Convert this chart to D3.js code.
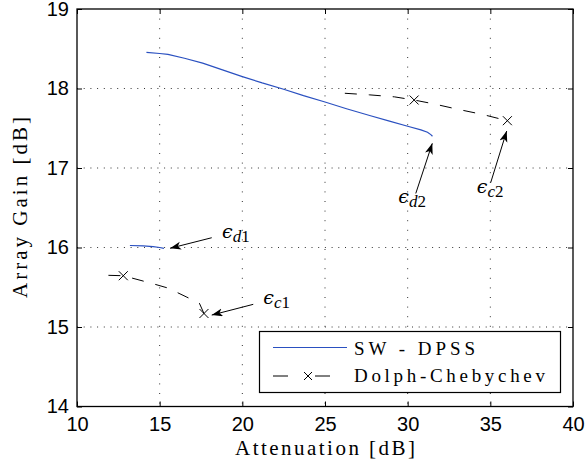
<!DOCTYPE html>
<meta charset='utf-8'>
<style>
body { margin: 0; background: #fff; }
svg text { fill: #000; }
.axis text { font-size: 20px; font-family: 'Liberation Sans', Arial, sans-serif; }
.axis line { stroke: #000; }
.axis .domain { stroke: none; }
.grid line { stroke: #333; stroke-width: 1px; }
.sw { fill: none; stroke: #2a50c0; stroke-width: 1.2px; }
.dc { fill: none; stroke: #000; stroke-width: 1px; stroke-dasharray: 12 12; }
.mk { stroke: #000; stroke-width: 1px; }
.note { stroke: #000; stroke-width: 1px; }
</style>
<body>
<script src='https://cdn.jsdelivr.net/npm/d3@7'></script>
<script>
'use strict'

// Data

let xTicks = [10, 15, 20, 25, 30, 35, 40],
	yTicks = [14, 15, 16, 17, 18, 19]

let swAtt1 = [13.2, 14.0, 14.6, 15.0, 15.26],
	swGain1 = [16.025, 16.02, 16.012, 16.0, 15.99],
	swAtt2 = [14.2, 15.0, 15.5, 16.5, 17.6, 18.8, 20.0, 21.2, 22.5, 23.7, 25.0, 26.3, 27.7, 28.9, 30.0, 30.8, 31.2, 31.4, 31.5],
	swGain2 = [18.455, 18.44, 18.43, 18.38, 18.32, 18.235, 18.15, 18.07, 17.99, 17.91, 17.83, 17.745, 17.66, 17.59, 17.525, 17.48, 17.45, 17.42, 17.40]

let dcAtt1 = [11.9, 12.8, 14.5, 15.5, 16.6, 17.4, 17.68],
	dcGain1 = [15.65, 15.645, 15.55, 15.49, 15.38, 15.30, 15.17],
	dcAtt2 = [26.2, 27.7, 29.2, 30.39, 31.5, 33.0, 34.5, 36.03],
	dcGain2 = [17.94, 17.92, 17.895, 17.855, 17.81, 17.74, 17.675, 17.595],
	dcMarkAtt = [12.8, 17.68, 30.39, 36.03],
	dcMarkGain = [15.645, 15.17, 17.855, 17.595]

let noteSub = ['d1', 'c1', 'd2', 'c2'],
	noteTextAtt = [18.77, 21.27, 29.43, 34.18],
	noteTextGain = [16.12, 15.29, 16.56, 16.69],
	noteFromAtt = [18.15, 20.66, 30.49, 35.02],
	noteFromGain = [16.123, 15.285, 16.68, 16.815],
	noteToAtt = [15.63, 18.15, 31.49, 35.99],
	noteToGain = [15.99, 15.15, 17.31, 17.465]

let legendNames = ['SW - DPSS', 'Dolph-Chebychev']


// Setup

let W = 585, H = 474,
	x = d3.scaleLinear().domain([10, 40]).range([77, 573]),
	y = d3.scaleLinear().domain([14, 19]).range([406.5, 9]),
	serif = "'Liberation Serif', 'Times New Roman', 'DejaVu Serif', serif"

let svg = d3.select('body').append('svg').attr('width', W).attr('height', H)

let zip = (a, b) => a.map((v, i) => [v, b[i]]),
	line = d3.line().x(d => x(d[0])).y(d => y(d[1]))

svg.append('defs').append('marker')
	.attr('id', 'head').attr('markerUnits', 'userSpaceOnUse')
	.attr('markerWidth', 14).attr('markerHeight', 10)
	.attr('refX', 11).attr('refY', 4).attr('orient', 'auto')
	.append('path').attr('d', 'M0,0 L11,4 L0,8 L3,4 Z').attr('fill', '#000')


// Grid

svg.append('g').attr('class', 'grid')
	.selectAll('line').data(xTicks.slice(1, -1)).join('line')
		.attr('x1', d => x(d)).attr('x2', d => x(d))
		.attr('y1', y(19)).attr('y2', y(14))
		.attr('stroke-dasharray', '1 8.6')
svg.append('g').attr('class', 'grid')
	.selectAll('line').data(yTicks.slice(1, -1)).join('line')
		.attr('y1', d => y(d)).attr('y2', d => y(d))
		.attr('x1', x(10)).attr('x2', x(40))
		.attr('stroke-dasharray', '1 5.7')


// Axes

let fmt = d3.format('d')
svg.append('g').attr('class', 'axis').attr('transform', `translate(0,${y(14)})`)
	.call(d3.axisBottom(x).tickValues(xTicks).tickFormat(fmt).tickSize(-5).tickPadding(10))
svg.append('g').attr('class', 'axis').attr('transform', `translate(${x(10)},0)`)
	.call(d3.axisLeft(y).tickValues(yTicks).tickFormat(fmt).tickSize(-5).tickPadding(8))
svg.append('g').attr('class', 'axis').attr('transform', `translate(0,${y(19)})`)
	.call(d3.axisTop(x).tickValues(xTicks).tickSize(-5).tickFormat(''))
svg.append('g').attr('class', 'axis').attr('transform', `translate(${x(40)},0)`)
	.call(d3.axisRight(y).tickValues(yTicks).tickSize(-5).tickFormat(''))

svg.append('rect')
	.attr('x', x(10)).attr('y', y(19))
	.attr('width', x(40) - x(10)).attr('height', y(14) - y(19))
	.attr('fill', 'none').attr('stroke', '#000').attr('stroke-width', 1.3)

svg.append('text').style('font-family', serif)
	.attr('x', 235).attr('y', 455).attr('font-size', 21)
	.attr('textLength', 180).attr('lengthAdjust', 'spacing')
	.text('Attenuation [dB]')
svg.append('text').style('font-family', serif)
	.attr('transform', 'translate(27,298) rotate(-90)').attr('font-size', 21)
	.attr('textLength', 181).attr('lengthAdjust', 'spacing')
	.text('Array Gain [dB]')


// Series

svg.append('path').attr('class', 'sw').attr('d', line(zip(swAtt1, swGain1)))
svg.append('path').attr('class', 'sw').attr('d', line(zip(swAtt2, swGain2)))
svg.append('path').attr('class', 'dc').attr('d', line(zip(dcAtt1, dcGain1)))
svg.append('path').attr('class', 'dc').attr('d', line(zip(dcAtt2, dcGain2)))

let cross = (s, r) => s.append('path').attr('class', 'mk')
	.attr('d', `M${-r},${-r}L${r},${r}M${-r},${r}L${r},${-r}`)

svg.append('g').selectAll('g').data(zip(dcMarkAtt, dcMarkGain)).join('g')
	.attr('transform', d => `translate(${x(d[0])},${y(d[1])})`)
	.call(s => cross(s, 4.5))


// Annotations

noteSub.forEach((sub, i) => {
	svg.append('line').attr('class', 'note')
		.attr('x1', x(noteFromAtt[i])).attr('y1', y(noteFromGain[i]))
		.attr('x2', x(noteToAtt[i])).attr('y2', y(noteToGain[i]))
		.attr('marker-end', 'url(#head)')
	let t = svg.append('text').style('font-family', serif)
		.attr('x', x(noteTextAtt[i])).attr('y', y(noteTextGain[i]))
	t.append('tspan').style('font-family', "'DejaVu Serif', serif").attr('font-style', 'italic')
		.attr('font-size', 19).text('\u03f5')
	t.append('tspan').attr('dy', 4).attr('font-size', 17).attr('font-style', 'italic')
		.text(sub[0])
	t.append('tspan').attr('font-size', 17).text(sub.slice(1))
})


// Legend

let lg = svg.append('g')
lg.append('rect')
	.attr('x', 259.5).attr('y', 331.5).attr('width', 301).attr('height', 61)
	.attr('fill', '#fff').attr('stroke', '#000').attr('stroke-width', 1.2)
lg.append('line').attr('class', 'sw')
	.attr('x1', 273).attr('x2', 347).attr('y1', 347.5).attr('y2', 347.5)
lg.append('line').attr('class', 'dc').style('stroke-dasharray', '15 27')
	.attr('x1', 273).attr('x2', 330).attr('y1', 376).attr('y2', 376)
lg.append('g').attr('transform', 'translate(308,376)').call(s => cross(s, 4))
lg.selectAll('text.lab').data(legendNames).join('text')
	.attr('class', 'lab').style('font-family', serif)
	.attr('x', 354).attr('y', (d, i) => 355 + i * 27)
	.attr('font-size', 19)
	.attr('textLength', (d, i) => [121, 191][i]).attr('lengthAdjust', 'spacing')
	.text(d => d)

</script>
</body>
